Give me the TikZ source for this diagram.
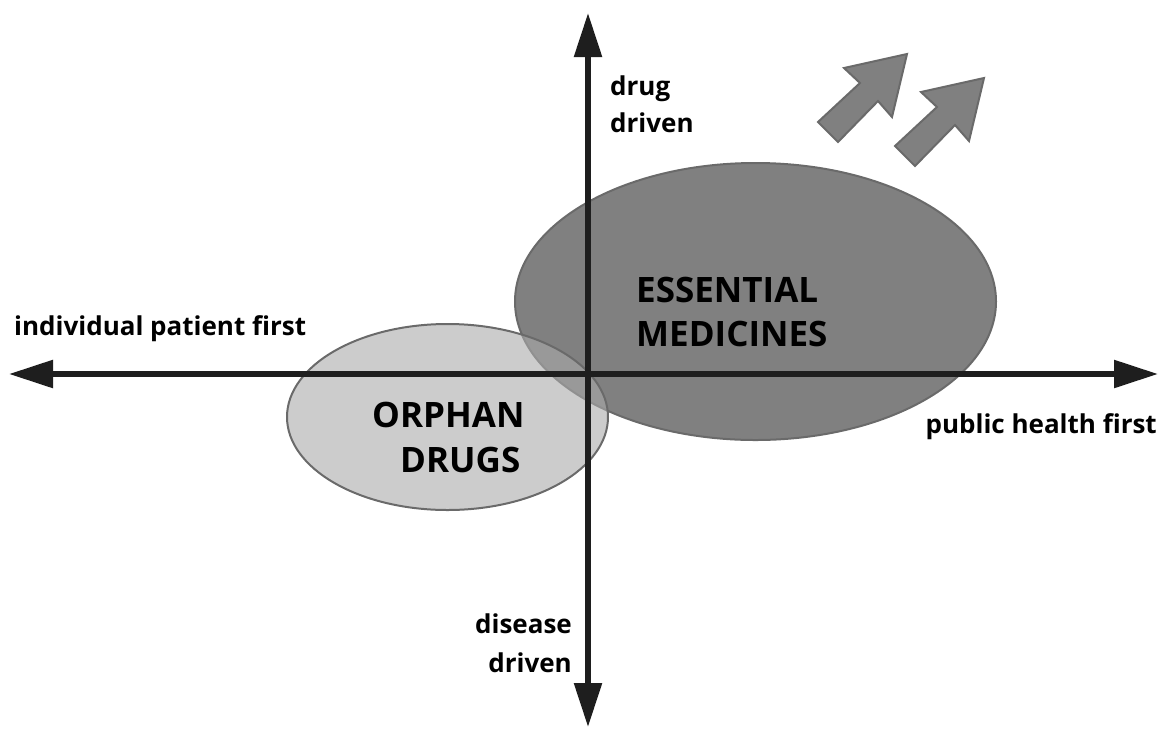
\documentclass[tikz,border=0pt]{standalone}
\usepackage{fontspec}
\setmainfont{Open Sans}
\usetikzlibrary{arrows.meta,shapes.geometric}
\definecolor{essfill}{HTML}{808080}
\definecolor{orphfill}{HTML}{AAAAAA}
\definecolor{edgegray}{HTML}{6A6A6A}
\definecolor{axisblack}{HTML}{1E1E1E}
\tikzset{
  blob/.style={ellipse, draw=edgegray, line width=2pt, inner sep=0pt},
  axisline/.style={draw=axisblack, line width=5.5pt, {Triangle[length=44pt,width=27pt]}-{Triangle[length=44pt,width=27pt]}},
  bigtxt/.style={font=\bfseries\fontsize{35}{42}\selectfont, inner sep=0pt, anchor=base west},
  smalltxt/.style={font=\bfseries\fontsize{26}{31}\selectfont, inner sep=0pt},
  blockarrow/.style={fill=essfill, draw=edgegray, line width=2pt, line join=miter}
}
\begin{document}
\begin{tikzpicture}[x=1pt,y=-1pt]
\useasboundingbox (0,0) rectangle (1161,729);
% ellipses
\node[blob, fill=essfill, minimum width=481pt, minimum height=277pt] (ess) at (755.5,301.5) {};
\node[blob, fill=orphfill, fill opacity=0.6, minimum width=321pt, minimum height=186pt] (orph) at (447.5,417) {};
% axes
\coordinate (L) at (9,374);
\coordinate (R) at (1158,374);
\coordinate (T) at (588,13);
\coordinate (B) at (588,727);
\draw[axisline] (L) -- (R);
\draw[axisline] (T) -- (B);
% block arrows
\foreach \dx/\dy [count=\i] in {0/0, 77/24} {
  \begin{scope}[shift={(\dx,\dy)}]
    \draw[blockarrow] (818,122) -- (860,83) -- (844,68) -- (907,54) -- (892,117) -- (878,101) -- (838,142) -- cycle;
  \end{scope}
}
% texts
\node[bigtxt] (e1) at (636,302) {ESSENTIAL};
\node[bigtxt] (e2) at (636,346) {MEDICINES};
\node[bigtxt] (o1) at (372,427) {ORPHAN};
\node[bigtxt] (o2) at (400,472) {DRUGS};
\node[smalltxt, anchor=base west] (d1) at (610,95) {drug};
\node[smalltxt, anchor=base west] (d2) at (610,132) {driven};
\node[smalltxt, anchor=base east] (s1) at (572,633) {disease};
\node[smalltxt, anchor=base east] (s2) at (572,672) {driven};
\node[smalltxt, anchor=base west] (ip) at (14,335) {individual patient first};
\node[smalltxt, anchor=base east] (ph) at (1157,433) {public health first};
\end{tikzpicture}
\end{document}
